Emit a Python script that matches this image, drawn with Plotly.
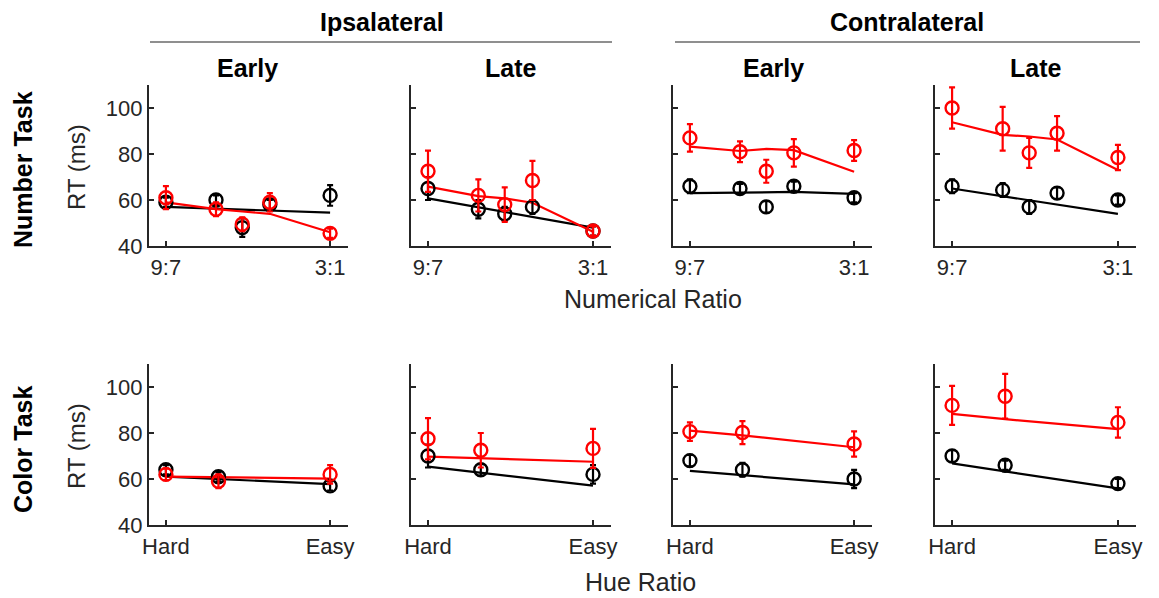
import plotly.graph_objects as go

W, H = 1159, 598
FONT = "Liberation Sans, Arial, sans-serif"
TXT = "#262626"

# ---------------- data ----------------
num_x = [0.0, 0.305, 0.465, 0.633, 1.0]
num_ticks = [0.0, 1.0]
num_ticklabels = ["9:7", "3:1"]

hue_x = [0.0, 0.32, 1.0]
hue_ticks = [0.0, 1.0]
hue_ticklabels = ["Hard", "Easy"]

# Number task (row 1)
num_ipsi_early_black = [59, 60, 48, 58, 62]
num_ipsi_early_black_err = [2, 2, 4, 2, 4.5]
num_ipsi_early_red = [61, 56, 49.5, 59, 45.5]
num_ipsi_early_red_err = [5, 3, 3, 4, 2]
num_ipsi_early_black_fit = [57, 56.2, 55.8, 55.4, 54.5]
num_ipsi_early_red_fit = [59, 56, 55, 54, 46]

num_ipsi_late_black = [65, 56, 54, 57, 46.5]
num_ipsi_late_black_err = [5, 4, 3, 3, 2]
num_ipsi_late_red = [72.5, 62, 58, 68.5, 46.5]
num_ipsi_late_red_err = [9, 7, 7.5, 8.5, 2]
num_ipsi_late_black_fit = [60.7, 56.8, 54.8, 52.7, 48]
num_ipsi_late_red_fit = [65.8, 61.7, 60.7, 58.8, 46.2]

num_contra_early_black = [66, 65, 57, 66, 61]
num_contra_early_black_err = [3, 2, 2.5, 2, 2]
num_contra_early_red = [87, 81, 72.5, 80.5, 81.5]
num_contra_early_red_err = [6, 4.5, 5, 6, 4.5]
num_contra_early_black_fit = [63, 63.2, 63.4, 63.5, 62.7]
num_contra_early_red_fit = [83.2, 81.3, 82.2, 81.7, 72.3]

num_contra_late_black = [66, 64.3, 57, 63, 60]
num_contra_late_black_err = [3, 3, 3, 2.5, 2]
num_contra_late_red = [100, 91, 80.5, 89, 78.5]
num_contra_late_red_err = [9, 9.5, 6.5, 7.5, 5.5]
num_contra_late_black_fit = [65, 61.6, 59.9, 58, 54]
num_contra_late_red_fit = [93.8, 88.3, 87.6, 86.3, 73]

# Color task (row 2)
col_ipsi_early_black = [64, 61, 57]
col_ipsi_early_black_err = [2, 2, 2]
col_ipsi_early_red = [62, 59, 62]
col_ipsi_early_red_err = [2.5, 3, 4]
col_ipsi_early_black_fit = [61, 60, 57.8]
col_ipsi_early_red_fit = [61, 60.8, 60.2]

col_ipsi_late_black = [70, 64, 62]
col_ipsi_late_black_err = [5, 2.5, 4]
col_ipsi_late_red = [77.5, 72.5, 73.3]
col_ipsi_late_red_err = [9, 7.5, 8.5]
col_ipsi_late_black_fit = [65.4, 62.8, 57.1]
col_ipsi_late_red_fit = [69.7, 69, 67.5]

col_contra_early_black = [68, 64, 60]
col_contra_early_black_err = [2.5, 3, 4]
col_contra_early_red = [80.6, 80.2, 75.2]
col_contra_early_red_err = [4, 5, 5.5]
col_contra_early_black_fit = [63.5, 61.6, 57.7]
col_contra_early_red_fit = [81, 79, 73.8]

col_contra_late_black = [70, 66, 58]
col_contra_late_black_err = [2.5, 2, 2]
col_contra_late_red = [92, 96, 84.6]
col_contra_late_red_err = [8.5, 9.7, 6.6]
col_contra_late_black_fit = [66.8, 63.3, 55.9]
col_contra_late_red_fit = [88.3, 86, 81.7]

panels = [
    # row 0
    (num_ipsi_early_black, num_ipsi_early_black_err, num_ipsi_early_red, num_ipsi_early_red_err,
     num_ipsi_early_black_fit, num_ipsi_early_red_fit),
    (num_ipsi_late_black, num_ipsi_late_black_err, num_ipsi_late_red, num_ipsi_late_red_err,
     num_ipsi_late_black_fit, num_ipsi_late_red_fit),
    (num_contra_early_black, num_contra_early_black_err, num_contra_early_red, num_contra_early_red_err,
     num_contra_early_black_fit, num_contra_early_red_fit),
    (num_contra_late_black, num_contra_late_black_err, num_contra_late_red, num_contra_late_red_err,
     num_contra_late_black_fit, num_contra_late_red_fit),
    # row 1
    (col_ipsi_early_black, col_ipsi_early_black_err, col_ipsi_early_red, col_ipsi_early_red_err,
     col_ipsi_early_black_fit, col_ipsi_early_red_fit),
    (col_ipsi_late_black, col_ipsi_late_black_err, col_ipsi_late_red, col_ipsi_late_red_err,
     col_ipsi_late_black_fit, col_ipsi_late_red_fit),
    (col_contra_early_black, col_contra_early_black_err, col_contra_early_red, col_contra_early_red_err,
     col_contra_early_black_fit, col_contra_early_red_fit),
    (col_contra_late_black, col_contra_late_black_err, col_contra_late_red, col_contra_late_red_err,
     col_contra_late_black_fit, col_contra_late_red_fit),
]

# ---------------- layout geometry (pixels) ----------------
col_px = [(149, 348), (411, 611), (673, 872), (935, 1136)]
row_px = [(85, 246), (364, 525)]

fig = go.Figure()
layout = {}

for idx, pdata in enumerate(panels):
    r, c = divmod(idx, 4)
    n = idx + 1
    xs = num_x if r == 0 else hue_x
    tv = num_ticks if r == 0 else hue_ticks
    tt = num_ticklabels if r == 0 else hue_ticklabels
    xa = "x" if n == 1 else f"x{n}"
    ya = "y" if n == 1 else f"y{n}"
    bm, be, rm, re_, bf, rf = pdata
    # fit lines
    fig.add_trace(go.Scatter(x=xs, y=bf, mode="lines", line=dict(color="black", width=2.2),
                             xaxis=xa, yaxis=ya, showlegend=False, hoverinfo="skip"))
    fig.add_trace(go.Scatter(x=xs, y=rf, mode="lines", line=dict(color="#ff0000", width=2.2),
                             xaxis=xa, yaxis=ya, showlegend=False, hoverinfo="skip"))
    # data points
    for mean, err, color in ((bm, be, "black"), (rm, re_, "#ff0000")):
        fig.add_trace(go.Scatter(
            x=xs, y=mean, mode="markers",
            marker=dict(symbol="circle-open", size=13, color=color, line=dict(width=2.4, color=color)),
            error_y=dict(type="data", array=err, color=color, thickness=2.2, width=3),
            xaxis=xa, yaxis=ya, showlegend=False))

    x0, x1 = col_px[c]
    y0, y1 = row_px[r]
    key = "" if n == 1 else str(n)
    layout["xaxis" + key] = dict(
        domain=[x0 / W, x1 / W], anchor=ya, range=[-0.103, 1.109],
        tickvals=tv, ticktext=tt, showline=True, linecolor=TXT, linewidth=2.2,
        ticks="inside", ticklen=5, tickwidth=1.5, tickcolor=TXT,
        showgrid=False, zeroline=False, fixedrange=True, automargin=False,
        tickfont=dict(family=FONT, size=22, color=TXT))
    layout["yaxis" + key] = dict(
        domain=[1 - y1 / H, 1 - y0 / H], anchor=xa, range=[40, 110],
        tickvals=[40, 60, 80, 100], showticklabels=(c == 0),
        showline=True, linecolor=TXT, linewidth=2.2,
        ticks="inside", ticklen=5, tickwidth=1.5, tickcolor=TXT,
        showgrid=False, zeroline=False, fixedrange=True, automargin=False,
        tickfont=dict(family=FONT, size=22, color=TXT))


def ann(text, x, y, size, bold=False, color="black", angle=0):
    return dict(text=f"<b>{text}</b>" if bold else text, x=x / W, y=1 - y / H,
                xref="paper", yref="paper", xanchor="center", yanchor="middle",
                showarrow=False, textangle=angle,
                font=dict(family=FONT, size=size, color=color))


annotations = [
    ann("Ipsalateral", 382, 22, 25, bold=True),
    ann("Contralateral", 907, 22, 25, bold=True),
    ann("Early", 248, 68, 25, bold=True),
    ann("Late", 511, 68, 25, bold=True),
    ann("Early", 773, 68, 25, bold=True),
    ann("Late", 1036, 68, 25, bold=True),
    ann("Number Task", 23, 170, 25, bold=True, angle=-90),
    ann("Color Task", 23, 450, 25, bold=True, angle=-90),
    ann("RT (ms)", 77, 167, 24, color=TXT, angle=-90),
    ann("RT (ms)", 77, 446, 24, color=TXT, angle=-90),
    ann("Numerical Ratio", 653, 299, 25, color=TXT),
    ann("Hue Ratio", 640, 582, 25, color=TXT),
]

shapes = [
    dict(type="line", xref="paper", yref="paper", x0=150 / W, x1=612 / W,
         y0=1 - 42 / H, y1=1 - 42 / H, line=dict(color="#8f8f8f", width=2)),
    dict(type="line", xref="paper", yref="paper", x0=675 / W, x1=1140 / W,
         y0=1 - 42 / H, y1=1 - 42 / H, line=dict(color="#8f8f8f", width=2)),
]

fig.update_layout(
    width=W, height=H, margin=dict(l=0, r=0, t=0, b=0, autoexpand=False),
    paper_bgcolor="white", plot_bgcolor="white",
    font=dict(family=FONT, color=TXT),
    annotations=annotations, shapes=shapes, showlegend=False,
    **layout)

fig.write_html(
    "out.html",
    config={"displayModeBar": False, "staticPlot": True},
    post_script="document.body.style.margin='0';document.body.style.padding='0';"
                "document.body.style.overflow='hidden';")
